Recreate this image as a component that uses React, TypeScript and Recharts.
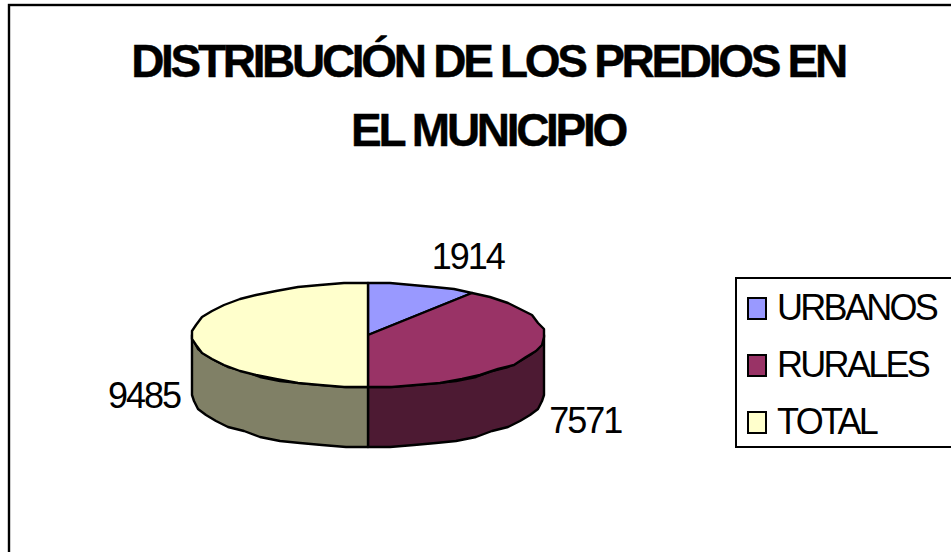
import React from "react";
import { PieChart, Pie, Cell, Legend } from "recharts";

const categories = ["URBANOS", "RURALES", "TOTAL"];
const values = [1914, 7571, 9485];
const topColors = ["#9999ff", "#993366", "#ffffcc"];
const wallColors = ["#4d4d80", "#4d1a33", "#808066"];
const titleLines = ["DISTRIBUCIÓN DE LOS PREDIOS EN", "EL MUNICIPIO"];
const labelDx = [45, 50, -48];
const labelDy = [-17, 82, 73];

const rows = categories.map((name, i) => ({ name, value: values[i], fill: topColors[i], wall: wallColors[i] }));

const SQUASH = 52 / 176;
const DEPTH = 60;
const RAD = Math.PI / 180;
const STEP = 8;
const GRID = 2;

const snap = (v: number) => Math.round(v / GRID) * GRID;

const rim = (cx: number, cy: number, r: number, a: number, off = 0): [number, number] => [
  cx + snap(r * Math.cos(a * RAD)),
  cy + snap(-r * SQUASH * Math.sin(a * RAD)) + off,
];

const rimPoints = (cx: number, cy: number, r: number, from: number, to: number, off = 0) => {
  const pts: [number, number][] = [];
  const n = Math.max(1, Math.ceil(Math.abs(to - from) / STEP));
  for (let i = 0; i <= n; i++) pts.push(rim(cx, cy, r, from + ((to - from) * i) / n, off));
  return pts;
};

const toPath = (pts: [number, number][]) => pts.map((p) => `${p[0]},${p[1]}`).join(" L");

function Slice(props: any) {
  const { cx, cy, outerRadius: r, startAngle, endAngle, fill, payload } = props;
  const hi = Math.max(startAngle, endAngle);
  const lo = Math.min(startAngle, endAngle);
  const wallFrom = Math.min(hi, 0);
  const wallTo = Math.max(lo, -180);
  const hasWall = wallFrom > wallTo;
  const top = rimPoints(cx, cy, r, startAngle, endAngle);
  return (
    <g>
      {hasWall && (() => {
        const up = rimPoints(cx, cy, r, wallFrom, wallTo);
        const down = rimPoints(cx, cy, r, wallTo, wallFrom, DEPTH);
        return (
          <path
            d={`M${toPath(up)} L${toPath(down)} Z`}
            fill={payload?.wall}
            stroke="#000"
            strokeWidth={2.4}
            strokeLinejoin="round"
          />
        );
      })()}
      <path
        d={`M${cx},${cy} L${toPath(top)} Z`}
        fill={fill}
        stroke="#000"
        strokeWidth={2.4}
        strokeLinejoin="round"
      />
    </g>
  );
}

function DataLabel(props: any) {
  const { cx, cy, outerRadius: r, midAngle, index, value } = props;
  const x = cx + r * Math.cos(midAngle * RAD);
  const y = cy - r * SQUASH * Math.sin(midAngle * RAD);
  return (
    <text
      x={x + labelDx[index]}
      y={y + labelDy[index]}
      textAnchor="middle"
      fontFamily="Liberation Sans"
      fontSize={36}
      letterSpacing={-2}
      fill="#000"
    >
      {value}
    </text>
  );
}

function LegendBox({ payload }: any) {
  return (
    <div
      style={{
        boxSizing: "border-box",
        width: 240,
        height: 171,
        background: "#fff",
        border: "2.4px solid #000",
        position: "relative",
      }}
    >
      {(payload || []).map((e: any, i: number) => (
        <div
          key={e.value}
          style={{
            position: "absolute",
            left: 10,
            top: 16 + i * 57,
            display: "flex",
            alignItems: "center",
            height: 26,
          }}
        >
          <span
            style={{
              display: "inline-block",
              boxSizing: "border-box",
              width: 20,
              height: 23,
              background: e.color,
              border: "2.4px solid #000",
              marginRight: 10,
            }}
          />
          <span
            style={{
              fontFamily: "Liberation Sans",
              fontSize: 36,
              letterSpacing: -2.7,
              color: "#000",
              lineHeight: "26px",
              whiteSpace: "nowrap",
            }}
          >
            {e.value}
          </span>
        </div>
      ))}
    </div>
  );
}

export default function App() {
  return (
    <div style={{ position: "fixed", left: 0, top: 0, width: 951, height: 552, overflow: "hidden", background: "#fff" }}>
      <PieChart width={951} height={552} margin={{ top: 0, right: 0, bottom: 0, left: 0 }}>
        <rect x={9} y={5} width={1100} height={800} fill="#fff" stroke="#000" strokeWidth={2.4} />
        {titleLines.map((t, i) => (
          <text
            key={t}
            x={488}
            y={77 + i * 69}
            textAnchor="middle"
            fontFamily="Liberation Sans"
            fontWeight="bold"
            fontSize={46}
            letterSpacing={-3.3}
            stroke="#000"
            strokeWidth={0.4}
            fill="#000"
          >
            {t}
          </text>
        ))}
        <Pie
          data={rows}
          dataKey="value"
          nameKey="name"
          cx={368}
          cy={335}
          outerRadius={176}
          startAngle={90}
          endAngle={-270}
          paddingAngle={0}
          isAnimationActive={false}
          labelLine={false}
          label={DataLabel}
          shape={Slice}
          legendType="square"
        >
          {rows.map((r) => (
            <Cell key={r.name} fill={r.fill} />
          ))}
        </Pie>
        <Legend
          content={<LegendBox />}
          itemSorter={null}
          wrapperStyle={{ position: "absolute", left: 735, top: 277, width: 240, height: 171, bottom: "auto", right: "auto" }}
        />
      </PieChart>
    </div>
  );
}
